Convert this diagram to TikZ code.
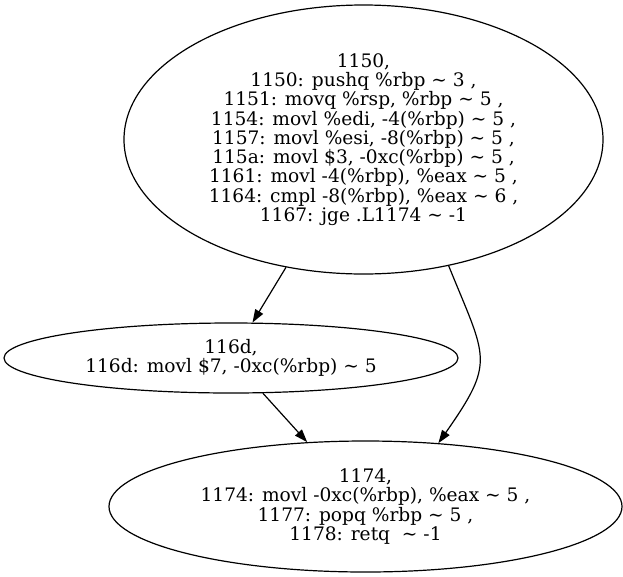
\documentclass[tikz,border=0pt]{standalone}
\usepackage{fontspec}
\setmainfont{DejaVu Serif}
\usetikzlibrary{shapes.geometric,arrows.meta}
\newcommand{\tld}{\textasciitilde}

\begin{document}
\begin{tikzpicture}[x=1pt, y=-1pt, line width=1.2pt,
  blk/.style={ellipse, draw, inner sep=0pt, align=center, font=\fontsize{18.6}{19.3}\selectfont},
  jmp/.style={-{Triangle[length=13pt,width=9pt]}}]
\useasboundingbox (0,0) rectangle (623,576);
\node[blk, minimum width=479pt, minimum height=269pt] (n1150) at (363.5,139.5) {1150,\\
1150: pushq \%rbp \tld{} 3 ,\\
1151: movq \%rsp, \%rbp \tld{} 5 ,\\
1154: movl \%edi, -4(\%rbp) \tld{} 5 ,\\
1157: movl \%esi, -8(\%rbp) \tld{} 5 ,\\
115a: movl \$3, -0xc(\%rbp) \tld{} 5 ,\\
1161: movl -4(\%rbp), \%eax \tld{} 5 ,\\
1164: cmpl -8(\%rbp), \%eax \tld{} 6 ,\\
1167: jge .L1174 \tld{} -1};
\node[blk, minimum width=454pt, minimum height=70pt] (n116d) at (231,358) {116d,\\
116d: movl \$7, -0xc(\%rbp) \tld{} 5};
\node[blk, minimum width=513pt, minimum height=131pt] (n1174) at (365.5,506.5) {1174,\\
1174: movl -0xc(\%rbp), \%eax \tld{} 5 ,\\
1177: popq \%rbp \tld{} 5 ,\\
1178: retq\ \ \tld{} -1};
\draw[jmp] (n1150) -- (n116d);
\draw[jmp] (n1150.-56.5) to[out=-68, in=55, looseness=1.45] (n1174.41);
\draw[jmp] (n116d) -- (n1174);
\end{tikzpicture}
\end{document}
